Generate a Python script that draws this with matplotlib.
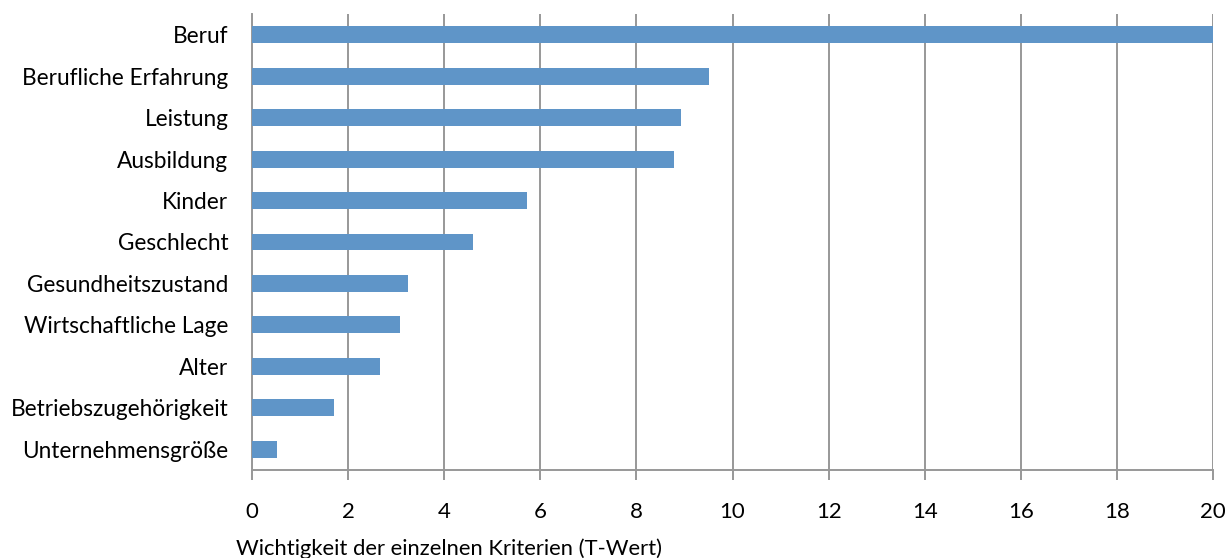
import matplotlib.pyplot as plt

# criteria, top to bottom
kriterien = ["Beruf", "Berufliche Erfahrung", "Leistung", "Ausbildung", "Kinder",
             "Geschlecht", "Gesundheitszustand", "Wirtschaftliche Lage", "Alter",
             "Betriebszugehörigkeit", "Unternehmensgröße"]
t_werte = [20.0, 9.51, 8.93, 8.78, 5.72, 4.60, 3.25, 3.09, 2.67, 1.70, 0.53]
x_ticks = list(range(0, 21, 2))

plt.rcParams['font.family'] = ['Lato', 'DejaVu Sans']

fig = plt.figure(figsize=(12.27, 5.58), dpi=100)
ax = fig.add_axes([252/1227, 1 - 470/558, (1213 - 252)/1227, (470 - 14)/558])

pos = list(range(len(kriterien)))[::-1]
ax.barh(pos, t_werte, height=0.41, color='#5f95c8', zorder=3)

ax.set_xlim(0, 20)
ax.set_ylim(-0.5, len(kriterien) - 0.5)
ax.set_xticks(x_ticks)
ax.set_xticklabels([str(t) for t in x_ticks], fontsize=16)
ax.set_yticks(pos)
ax.set_yticklabels(kriterien, fontsize=16.3)

ax.grid(axis='x', color='#989898', linewidth=1.4, zorder=0)
for s in ['top', 'right']:
    ax.spines[s].set_visible(False)
for s in ['left', 'bottom']:
    ax.spines[s].set_color('#989898')
    ax.spines[s].set_linewidth(1.4)
ax.tick_params(axis='x', length=7, width=1.4, color='#989898', pad=16)
ax.tick_params(axis='y', length=0, pad=17)

fig.text(236/1227, 1 - 549/558, "Wichtigkeit der einzelnen Kriterien (T-Wert)",
         fontsize=15.8, va='center', ha='left')

fig.savefig("out.png", dpi=100)
